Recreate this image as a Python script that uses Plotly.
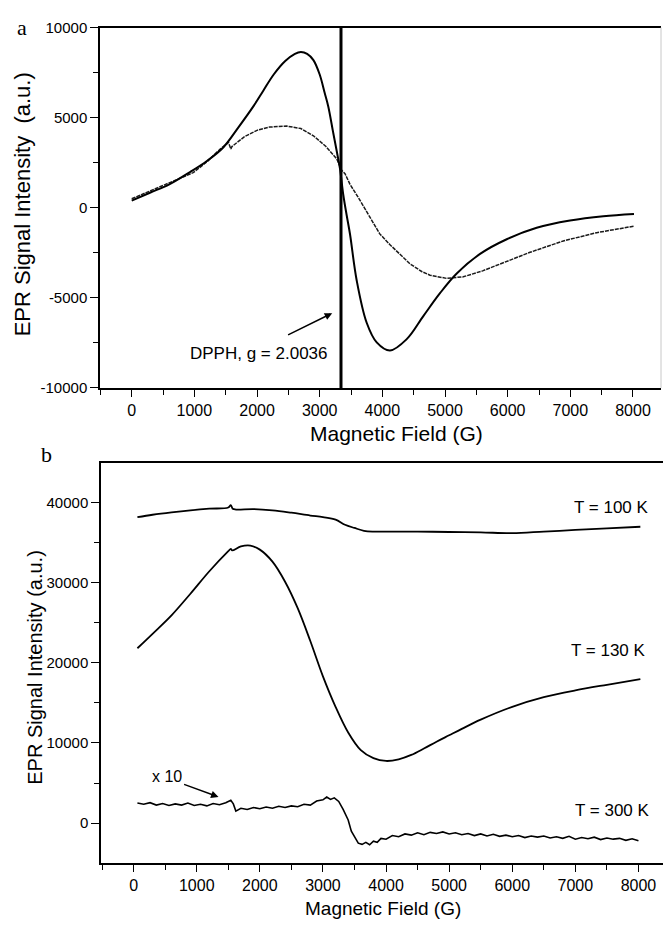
import plotly.graph_objects as go

# ---------------- Panel (a) data ----------------
a_solid_x = [0, 300, 600, 930, 1200, 1461, 1700, 1941, 2100, 2266, 2450, 2605, 2700, 2800, 2900, 3000,
             3078, 3137, 3214, 3280, 3324, 3377, 3430, 3484, 3590, 3750, 3910, 4122, 4389, 4654, 4920,
             5187, 5559, 5985, 6463, 6995, 7526, 8016]
a_solid_y = [400, 850, 1300, 1984, 2600, 3350, 4450, 5628, 6500, 7400, 8150, 8550, 8650, 8550, 8200, 7400,
             6400, 5628, 4200, 3000, 2170, 710, -400, -1470, -4020, -6380, -7470, -7920, -7290, -6010, -4740,
             -3650, -2560, -1745, -1110, -710, -470, -345]

a_dot_x = [0, 300, 600, 981, 1200, 1412, 1545, 1583, 1600, 1800, 2000, 2200, 2474, 2700, 2900, 3100,
           3272, 3351, 3404, 3484, 3620, 3803, 3959, 4122, 4296, 4441, 4634, 4761, 5027, 5292, 5600,
           5825, 6357, 6888, 7421, 8016]
a_dot_y = [500, 950, 1400, 1950, 2550, 3262, 3623, 3262, 3400, 3950, 4300, 4480, 4536, 4400, 4000, 3400,
           2715, 2077, 1896, 1300, 550, -560, -1450, -2050, -2650, -3110, -3550, -3740, -3920, -3830, -3500,
           -3200, -2470, -1840, -1380, -1020]

dpph_x = [3340, 3340]
dpph_y = [-10000, 10000]

# ---------------- Panel (b) data ----------------
b100_x = [60, 300, 600, 900, 1200, 1500, 1540, 1570, 1620, 1900, 2200, 2500, 2800, 3000, 3200, 3350,
          3500, 3650, 3800, 4000, 4500, 5000, 5500, 6000, 6500, 7000, 7500, 8030]
b100_y = [38150, 38450, 38750, 39000, 39200, 39350, 39650, 39200, 39100, 39150, 39000, 38700, 38350, 38150,
          37850, 37200, 36800, 36450, 36350, 36350, 36350, 36300, 36250, 36150, 36350, 36550, 36750, 36950]

b130_x = [60, 300, 600, 900, 1200, 1500, 1540, 1560, 1700, 1850, 2000, 2200, 2400, 2600, 2800, 3000,
          3200, 3400, 3600, 3800, 4000, 4200, 4400, 4600, 4800, 5000, 5200, 5500, 6000, 6500, 7000, 7500, 8030]
b130_y = [21800, 23600, 25900, 28600, 31400, 33900, 34200, 34000, 34500, 34600, 34100, 32600, 30100, 26800,
          22700, 18300, 14500, 11300, 9100, 8100, 7750, 7950, 8500, 9300, 10150, 10950, 11750, 12900, 14500,
          15700, 16550, 17250, 17950]

b300_x = [60, 160, 260, 360, 460, 560, 660, 760, 860, 960, 1060, 1160, 1260, 1360, 1460, 1540, 1580, 1620,
          1700, 1800, 1900, 2000, 2100, 2200, 2300, 2400, 2500, 2600, 2700, 2800, 2900, 3000, 3060, 3120,
          3180, 3250, 3320, 3400, 3450, 3500, 3560, 3620, 3680, 3740, 3800, 3860, 3920, 4000, 4100, 4200,
          4300, 4400, 4500, 4600, 4700, 4800, 4900, 5000, 5100, 5200, 5300, 5400, 5500, 5600, 5700, 5800,
          5900, 6000, 6100, 6200, 6300, 6400, 6500, 6600, 6700, 6800, 6900, 7000, 7100, 7200, 7300, 7400,
          7500, 7600, 7700, 7800, 7900, 8000]
b300_y = [2500, 2350, 2550, 2250, 2450, 2200, 2400, 2250, 2500, 2200, 2350, 2150, 2450, 2300, 2550, 2850,
          2400, 1500, 1850, 1700, 1950, 1800, 2000, 1850, 2100, 1950, 2150, 2050, 2350, 2250, 2750, 2900,
          3250, 2950, 3150, 2700, 1700, 400, -1000, -1700, -2500, -2650, -2400, -2700, -2250, -2400, -1900,
          -2000, -1550, -1700, -1350, -1500, -1200, -1450, -1150, -1300, -1100, -1350, -1200, -1450, -1300,
          -1550, -1350, -1600, -1400, -1650, -1500, -1700, -1550, -1800, -1600, -1750, -1600, -1850, -1700,
          -1900, -1650, -2000, -1800, -1950, -1750, -2050, -1850, -2000, -1900, -2150, -1950, -2200]

x_ticks = [0, 1000, 2000, 3000, 4000, 5000, 6000, 7000, 8000]
x_tick_text = ["0", "1000", "2000", "3000", "4000", "5000", "6000", "7000", "8000"]
ya_ticks = [-10000, -5000, 0, 5000, 10000]
ya_tick_text = ["-10000", "-5000", "0", "5000", "10000"]
yb_ticks = [0, 10000, 20000, 30000, 40000]
yb_tick_text = ["0", "10000", "20000", "30000", "40000"]

W, H = 663, 929
def px(x):
    return x / W
def py(y):
    return 1 - y / H

FONT = "Arial, Liberation Sans, sans-serif"
SERIF = "Times New Roman, Liberation Serif, serif"

fig = go.Figure()
fig.add_trace(go.Scatter(x=a_dot_x, y=a_dot_y, mode="lines",
                         line=dict(color="#1a1a1a", width=1.5, dash="4px,1px"),
                         xaxis="x", yaxis="y", showlegend=False))
fig.add_trace(go.Scatter(x=a_solid_x, y=a_solid_y, mode="lines", line_shape="spline",
                         line=dict(color="black", width=2),
                         xaxis="x", yaxis="y", showlegend=False))
fig.add_trace(go.Scatter(x=dpph_x, y=dpph_y, mode="lines",
                         line=dict(color="black", width=3),
                         xaxis="x", yaxis="y", showlegend=False))

fig.add_trace(go.Scatter(x=b100_x, y=b100_y, mode="lines", line_shape="spline",
                         line=dict(color="black", width=1.8),
                         xaxis="x2", yaxis="y2", showlegend=False))
fig.add_trace(go.Scatter(x=b130_x, y=b130_y, mode="lines", line_shape="spline",
                         line=dict(color="black", width=1.8),
                         xaxis="x2", yaxis="y2", showlegend=False))
fig.add_trace(go.Scatter(x=b300_x, y=b300_y, mode="lines",
                         line=dict(color="black", width=1.6),
                         xaxis="x2", yaxis="y2", showlegend=False))

common_x = dict(showgrid=False, zeroline=False, showline=True, linecolor="black", linewidth=1.5,
                ticks="outside", ticklen=7, tickwidth=1.3, tickcolor="black",
                tickvals=x_ticks, ticktext=x_tick_text,
                tickfont=dict(family=FONT, size=16, color="black"),
                minor=dict(dtick=500, tick0=0, ticks="outside", ticklen=5, tickcolor="black", tickwidth=1.2))

fig.update_layout(
    width=W, height=H,
    margin=dict(l=0, r=0, t=0, b=0),
    paper_bgcolor="white", plot_bgcolor="white",
    xaxis=dict(domain=[px(100), px(661)], range=[-506, 8447], anchor="y", mirror=True, **common_x),
    yaxis=dict(domain=[py(386), py(19)], range=[-10000, 10000], anchor="x",
               showgrid=False, zeroline=False, showline=True, linecolor="black", linewidth=1.5,
               ticks="outside", ticklen=8, tickwidth=1.3, tickcolor="black",
               tickvals=ya_ticks, ticktext=ya_tick_text,
               tickfont=dict(family=FONT, size=15, color="black"),
               minor=dict(dtick=2500, tick0=0, ticks="outside", ticklen=5, tickcolor="black", tickwidth=1.2)),
    xaxis2=dict(domain=[px(101), 1.0], range=[-517, 8389], anchor="y2", mirror=True, **common_x),
    yaxis2=dict(domain=[py(870), py(462)], range=[-4982, 44957], anchor="x2",
                showgrid=False, zeroline=False, showline=True, linecolor="black", linewidth=1.5,
                ticks="outside", ticklen=8, tickwidth=1.3, tickcolor="black",
                tickvals=yb_ticks, ticktext=yb_tick_text,
                tickfont=dict(family=FONT, size=15, color="black"),
                minor=dict(dtick=5000, tick0=0, ticks="outside", ticklen=5, tickcolor="black", tickwidth=1.2)),
)

# faint right frame of the top panel
fig.add_shape(type="line", xref="paper", yref="paper", x0=px(661), x1=px(661), y0=py(386), y1=py(19),
              line=dict(color="#c8c8c8", width=1))

ann = []
def txt(text, x, y, size, family=FONT, angle=0, xref="paper", yref="paper"):
    ann.append(dict(text=text, x=x, y=y, xref=xref, yref=yref, showarrow=False,
                    font=dict(family=family, size=size, color="black"), textangle=angle,
                    xanchor="center", yanchor="middle"))

txt("a", px(22), py(19), 22, SERIF)
txt("b", px(46), py(454), 22, SERIF)
txt("EPR Signal Intensity  (a.u.)", px(22), py(199), 22, angle=-90)
txt("EPR Signal Intensity (a.u.)", px(35), py(671), 20, angle=-90)
txt("Magnetic Field (G)", px(396), py(432), 21)
txt("Magnetic Field (G)", px(383), py(916), 19)

txt("DPPH, g = 2.0036", 2035, -8115, 17, xref="x", yref="y")
txt("T = 100 K", 7574, 39290, 17, xref="x2", yref="y2")
txt("T = 130 K", 7520, 21540, 17, xref="x2", yref="y2")
txt("T = 300 K", 7590, 1630, 17, xref="x2", yref="y2")
txt("x 10", 535, 5826, 16, xref="x2", yref="y2")

ann.append(dict(x=3200, y=-5850, ax=2472, ay=-7100, xref="x", yref="y", axref="x", ayref="y",
                showarrow=True, arrowhead=2, arrowsize=1, arrowwidth=1.5, arrowcolor="black", text=""))
ann.append(dict(x=1345, y=3260, ax=776, ay=4900, xref="x2", yref="y2", axref="x2", ayref="y2",
                showarrow=True, arrowhead=2, arrowsize=1, arrowwidth=1.5, arrowcolor="black", text=""))

fig.update_layout(annotations=ann)
fig.write_html("out.html",
               config={"displayModeBar": False},
               post_script="document.body.style.margin='0';document.body.style.padding='0';"
                           "document.body.style.overflow='hidden';"
                           "document.documentElement.style.overflow='hidden';")
